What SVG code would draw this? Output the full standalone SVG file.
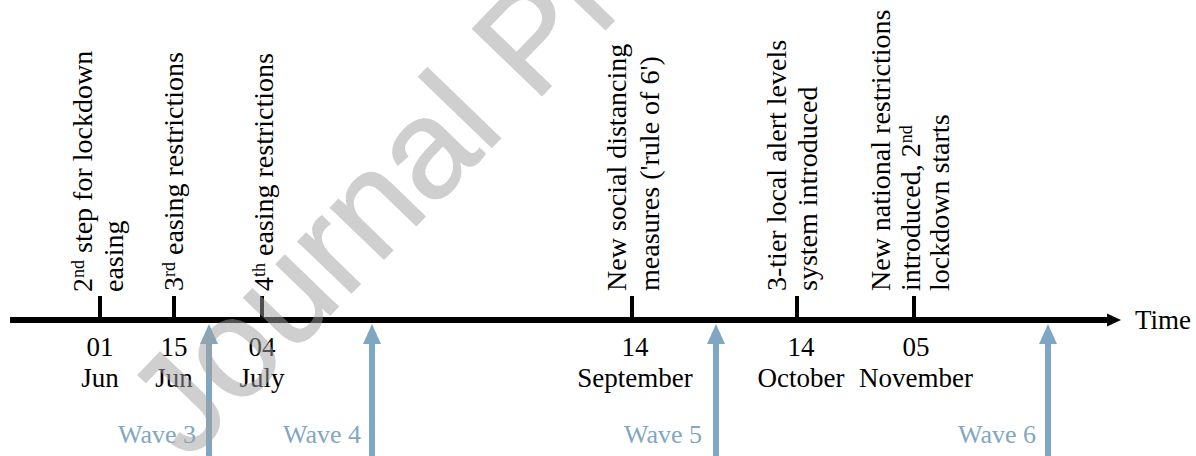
<svg xmlns="http://www.w3.org/2000/svg" width="1196" height="456" viewBox="0 0 1196 456">
<style>
  text { font-family: "Liberation Serif", "Times New Roman", serif; font-size: 27px; fill: #000; }
  .v { font-size: 28px; }
  .date { text-anchor: middle; }
  .sup { font-size: 18px; }
  .wave { font-size: 26px; fill: #7fa7c4; text-anchor: end; }
  .tick { stroke: #000; stroke-width: 4; }
  .axis { stroke: #000; stroke-width: 6; fill: none; }
  .warrow { stroke: #7fa7c4; stroke-width: 6; fill: none; }
  .whead { fill: #7fa7c4; }
  .wm { font-family: "Liberation Sans", Arial, sans-serif; font-size: 140px; fill: #a0a0a0; stroke: #a0a0a0; stroke-width: 1.5; }
</style>
<rect width="1196" height="456" fill="#fff"/>

<g id="connectors">
  <line class="axis" x1="10" y1="320" x2="1110" y2="320"/>
  <polygon points="1107,313.5 1121,320 1107,326.5" fill="#000"/>
  <line class="warrow" x1="209" y1="342" x2="209" y2="460"/>
  <polygon class="whead" points="209,324 218,344 200,344"/>
  <line class="warrow" x1="372" y1="342" x2="372" y2="460"/>
  <polygon class="whead" points="372,324 381,344 363,344"/>
  <line class="warrow" x1="716" y1="342" x2="716" y2="460"/>
  <polygon class="whead" points="716,324 725,344 707,344"/>
  <line class="warrow" x1="1048" y1="342" x2="1048" y2="460"/>
  <polygon class="whead" points="1048,324 1057,344 1039,344"/>
</g>

<g id="time-label">
  <text x="1135" y="329">Time</text>
</g>

<g id="event-01-jun">
  <line class="tick" x1="100" y1="296" x2="100" y2="320"/>
  <text class="v" transform="translate(92,292) rotate(-90)">2<tspan class="sup" dy="-8.5">nd</tspan><tspan dy="8.5"> step for lockdown</tspan></text>
  <text class="v" transform="translate(123,292) rotate(-90)">easing</text>
  <text class="date" x="100" y="356">01</text>
  <text class="date" x="100" y="387">Jun</text>
</g>

<g id="event-15-jun">
  <line class="tick" x1="174" y1="296" x2="174" y2="320"/>
  <text class="v" transform="translate(183,291) rotate(-90)">3<tspan class="sup" dy="-8.5">rd</tspan><tspan dy="8.5"> easing restrictions</tspan></text>
  <text class="date" x="174" y="356">15</text>
  <text class="date" x="174" y="387">Jun</text>
</g>

<g id="event-04-july">
  <line class="tick" x1="262" y1="296" x2="262" y2="320"/>
  <text class="v" transform="translate(273,291) rotate(-90)">4<tspan class="sup" dy="-8.5">th</tspan><tspan dy="8.5"> easing restrictions</tspan></text>
  <text class="date" x="262" y="356">04</text>
  <text class="date" x="262" y="387">July</text>
</g>

<g id="event-14-september">
  <line class="tick" x1="632" y1="296" x2="632" y2="320"/>
  <text class="v" transform="translate(626,291) rotate(-90)">New social distancing</text>
  <text class="v" transform="translate(659,291) rotate(-90)">measures ('rule of 6')</text>
  <text class="date" x="635" y="356">14</text>
  <text class="date" x="635" y="387">September</text>
</g>

<g id="event-14-october">
  <line class="tick" x1="797" y1="296" x2="797" y2="320"/>
  <text class="v" transform="translate(786,291) rotate(-90)">3-tier local alert levels</text>
  <text class="v" transform="translate(817,291) rotate(-90)">system introduced</text>
  <text class="date" x="801" y="356">14</text>
  <text class="date" x="801" y="387">October</text>
</g>

<g id="event-05-november">
  <line class="tick" x1="914" y1="296" x2="914" y2="320"/>
  <text class="v" transform="translate(890,291) rotate(-90)">New national restrictions</text>
  <text class="v" transform="translate(920,291) rotate(-90)">introduced, 2<tspan class="sup" dy="-8.5">nd</tspan></text>
  <text class="v" transform="translate(949,291) rotate(-90)">lockdown starts</text>
  <text class="date" x="916" y="356">05</text>
  <text class="date" x="916" y="387">November</text>
</g>

<g id="wave-3"><text class="wave" x="196" y="443">Wave 3</text></g>
<g id="wave-4"><text class="wave" x="361" y="443">Wave 4</text></g>
<g id="wave-5"><text class="wave" x="702" y="443">Wave 5</text></g>
<g id="wave-6"><text class="wave" x="1036" y="443">Wave 6</text></g>

<g id="watermark" opacity="0.5">
  <text class="wm" transform="translate(188,462) rotate(-46)">Journal Pre-proof</text>
</g>
</svg>
